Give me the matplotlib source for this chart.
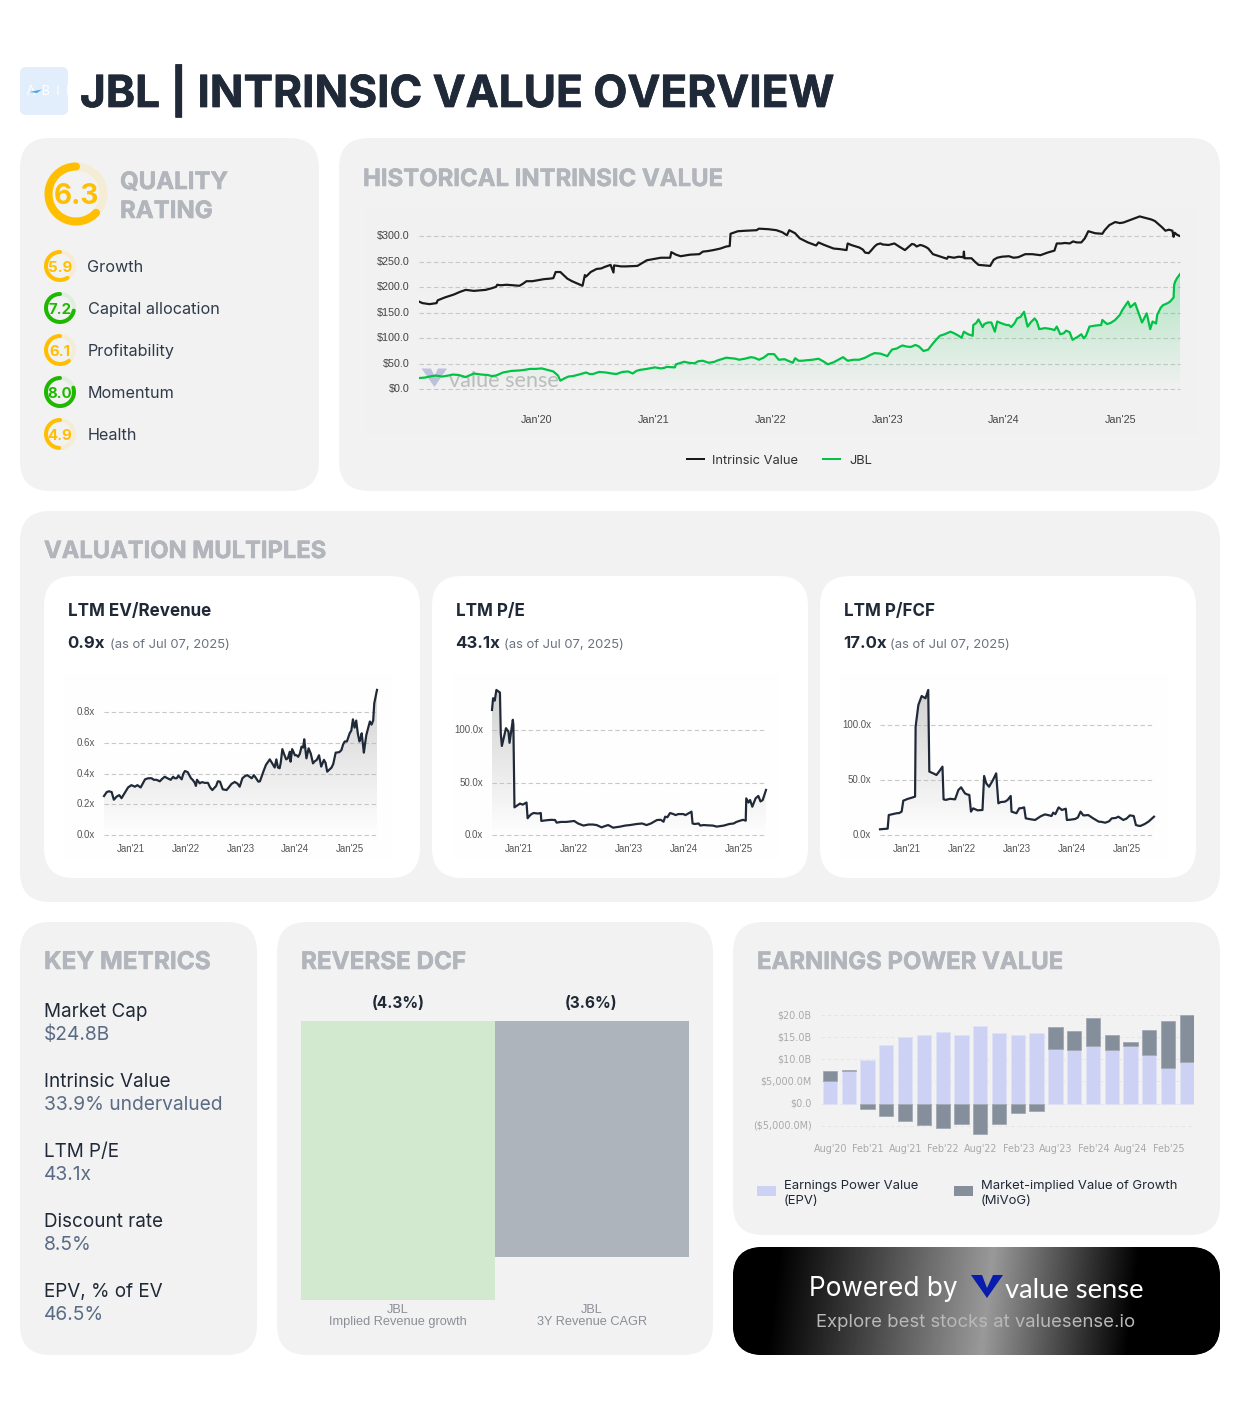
"""JBL intrinsic value overview, laid out in pixel coordinates."""

import numpy as np
import matplotlib
matplotlib.use("Agg")
import matplotlib.pyplot as plt
import matplotlib.patheffects as pe
from matplotlib.patches import FancyBboxPatch, PathPatch, Polygon, Rectangle
from matplotlib.transforms import ScaledTranslation

W, H = 1240, 1419

# --- Quality ratings ---
QUALITY = 6.3
RATING_NAMES = ["Growth", "Capital allocation", "Profitability", "Momentum", "Health"]
RATING_VALUES = [5.9, 7.2, 6.1, 8.0, 4.9]

# --- Historical intrinsic value vs price ---
iv_years = [2019.00, 2019.03, 2019.09, 2019.15, 2019.16, 2019.22, 2019.30, 2019.40, 2019.47, 2019.57,
            2019.66, 2019.67, 2019.75, 2019.86, 2019.92, 2019.97, 2020.07, 2020.15, 2020.17, 2020.21,
            2020.27, 2020.35, 2020.40, 2020.42, 2020.43, 2020.47, 2020.52, 2020.59, 2020.64, 2020.665,
            2020.67, 2020.77, 2020.87, 2021.00, 2021.07, 2021.15, 2021.16, 2021.24, 2021.40, 2021.43,
            2021.52, 2021.63, 2021.66, 2021.667, 2021.73, 2021.89, 2021.91, 2022.06, 2022.15, 2022.17,
            2022.26, 2022.40, 2022.42, 2022.55, 2022.66, 2022.67, 2022.77, 2022.82, 2022.85, 2022.87,
            2022.92, 2022.97, 2023.07, 2023.16, 2023.22, 2023.26, 2023.29, 2023.36, 2023.40, 2023.52,
            2023.53, 2023.66, 2023.665, 2023.67, 2023.73, 2023.79, 2023.89, 2023.92, 2023.99, 2024.13,
            2024.19, 2024.32, 2024.44, 2024.46, 2024.57, 2024.60, 2024.67, 2024.73, 2024.85, 2024.87,
            2024.96, 2025.03, 2025.17, 2025.27, 2025.33, 2025.39, 2025.45, 2025.46, 2025.47, 2025.51]
iv_values = [172, 169, 167, 169, 174.5, 180, 186, 195, 193, 195,
             201, 205, 205, 203, 212, 212, 216, 218, 230, 230,
             217, 208, 203, 224, 221, 230, 236, 240, 244, 229,
             243, 241, 242, 255, 258, 258, 269, 261, 265, 270,
             273, 280, 281, 305, 310, 312, 315, 312, 302, 312,
             296, 282, 288, 276, 273, 286, 278, 268, 267, 272,
             284, 284, 286, 273, 285, 280, 283, 276, 265, 256,
             260, 259, 270, 257, 257, 244, 242, 254, 260, 259,
             265, 263, 272, 286, 286, 290, 288, 310, 305, 312,
             328, 327, 339, 333, 324, 311, 311, 299, 307, 301]
iv_extra_years = [2019.35, 2019.52, 2019.62, 2019.70, 2019.80, 2019.89, 2020.02, 2020.12, 2020.31, 2020.56,
                  2020.73, 2020.95, 2021.10, 2021.20, 2021.32, 2021.47, 2021.58, 2021.80, 2021.99, 2022.11,
                  2022.22, 2022.33, 2022.47, 2022.60, 2022.70, 2022.80, 2022.90, 2022.95, 2023.02, 2023.11,
                  2023.19, 2023.24, 2023.31, 2023.34, 2023.44, 2023.48, 2023.58, 2023.62, 2023.76, 2023.84,
                  2023.95, 2024.05, 2024.09, 2024.16, 2024.25, 2024.38, 2024.50, 2024.53, 2024.63, 2024.70,
                  2024.79, 2024.91, 2025.00, 2025.10, 2025.22, 2025.30, 2025.36, 2025.42, 2025.49]
iv_extra_values = [191, 194, 198, 204, 204, 207, 214, 217, 212, 237,
                   241, 253, 258, 264, 264, 271, 276, 311, 314, 308,
                   306, 288, 283, 275, 283, 274, 280, 286, 283, 280,
                   279, 284, 282, 279, 262, 259, 258, 260, 250, 243,
                   258, 261, 258, 262, 265, 268, 286, 287, 288, 296,
                   306, 322, 326, 333, 336, 330, 318, 313, 303]

jbl_years = [2019.00, 2019.09, 2019.20, 2019.29, 2019.40, 2019.47, 2019.59, 2019.66, 2019.72, 2019.86,
             2019.95, 2020.05, 2020.15, 2020.19, 2020.21, 2020.25, 2020.32, 2020.43, 2020.49, 2020.60,
             2020.69, 2020.79, 2020.83, 2020.89, 2021.02, 2021.07, 2021.12, 2021.19, 2021.20, 2021.27,
             2021.36, 2021.43, 2021.53, 2021.59, 2021.67, 2021.74, 2021.84, 2021.91, 2021.99, 2022.04,
             2022.08, 2022.13, 2022.20, 2022.22, 2022.28, 2022.42, 2022.50, 2022.63, 2022.67, 2022.77,
             2022.90, 2023.01, 2023.05, 2023.12, 2023.17, 2023.25, 2023.32, 2023.40, 2023.46, 2023.55,
             2023.645, 2023.665, 2023.74, 2023.745, 2023.79, 2023.825, 2023.87, 2023.90, 2023.93, 2023.95,
             2024.03, 2024.07, 2024.12, 2024.18, 2024.21, 2024.27, 2024.31, 2024.415, 2024.46, 2024.49,
             2024.54, 2024.595, 2024.67, 2024.69, 2024.74, 2024.84, 2024.85, 2024.89, 2024.96, 2025.00,
             2025.07, 2025.09, 2025.13, 2025.19, 2025.23, 2025.26, 2025.28, 2025.31, 2025.32, 2025.37,
             2025.41, 2025.46, 2025.465, 2025.49, 2025.515]
jbl_values = [22, 25, 25, 29, 24, 31, 28, 27, 33, 37,
              40, 41, 35, 27, 17, 22, 26, 33, 30, 33,
              30, 35, 31, 38, 43, 41, 44, 43, 49, 54,
              51, 56, 54, 59, 61, 58, 63, 58, 69, 69,
              58, 59, 52, 61, 56, 60, 49, 63, 56, 58,
              71, 65, 78, 84, 84, 87, 75, 90, 105, 113,
              101, 113, 105, 126, 137, 122, 131, 131, 113, 133,
              126, 122, 139, 152, 123, 139, 118, 118, 123, 108,
              115, 97, 108, 100, 123, 126, 136, 128, 136, 146,
              172, 161, 169, 131, 149, 118, 133, 129, 146, 165,
              169, 180, 205, 218, 226]
jbl_extra_years = [2019.05, 2019.14, 2019.25, 2019.34, 2019.44, 2019.53, 2019.62, 2019.69, 2019.79, 2019.90,
                   2020.00, 2020.10, 2020.28, 2020.37, 2020.46, 2020.54, 2020.65, 2020.74, 2020.86, 2020.95,
                   2021.10, 2021.31, 2021.39, 2021.48, 2021.56, 2021.63, 2021.71, 2021.79, 2021.87, 2021.95,
                   2022.25, 2022.32, 2022.37, 2022.46, 2022.55, 2022.59, 2022.72, 2022.82, 2022.86, 2022.95,
                   2023.03, 2023.09, 2023.14, 2023.21, 2023.28, 2023.36, 2023.43, 2023.50, 2023.58, 2023.62,
                   2023.70, 2023.77, 2023.84, 2023.98, 2024.05, 2024.10, 2024.15, 2024.24, 2024.29, 2024.36,
                   2024.44, 2024.52, 2024.57, 2024.64, 2024.71, 2024.79, 2024.92, 2025.02, 2025.05, 2025.11,
                   2025.16, 2025.35, 2025.43, 2025.475]
jbl_extra_values = [23, 27, 27, 28, 28, 29, 26, 30, 36, 38,
                    40, 38, 25, 29, 30, 34, 31, 34, 36, 40,
                    42, 52, 55, 52, 57, 62, 60, 60, 62, 62,
                    56, 57, 58, 55, 53, 58, 58, 62, 67, 70,
                    72, 80, 86, 83, 84, 78, 98, 108, 110, 105,
                    108, 130, 128, 130, 126, 130, 142, 132, 133, 120,
                    116, 110, 112, 103, 105, 125, 130, 155, 165, 165,
                    150, 160, 172, 212]

MAIN_TICK_YEARS = [2020, 2021, 2022, 2023, 2024, 2025]
MAIN_TICK_LABELS = ["Jan'20", "Jan'21", "Jan'22", "Jan'23", "Jan'24", "Jan'25"]
MAIN_Y_TICKS = [0, 50, 100, 150, 200, 250, 300]
MAIN_Y_LABELS = ["$0.0", "$50.0", "$100.0", "$150.0", "$200.0", "$250.0", "$300.0"]

# --- Valuation multiples ---
ev_years = [2020.52, 2020.57, 2020.66, 2020.70, 2020.80, 2020.84, 2020.96, 2021.02, 2021.085, 2021.13,
            2021.19, 2021.27, 2021.39, 2021.43, 2021.54, 2021.63, 2021.74, 2021.785, 2021.85, 2021.88,
            2021.94, 2022.00, 2022.05, 2022.11, 2022.20, 2022.22, 2022.27, 2022.42, 2022.50, 2022.64,
            2022.69, 2022.76, 2022.85, 2022.91, 2023.00, 2023.05, 2023.14, 2023.22, 2023.26, 2023.34,
            2023.40, 2023.48, 2023.55, 2023.64, 2023.67, 2023.73, 2023.78, 2023.85, 2023.915, 2023.93,
            2023.96, 2024.01, 2024.07, 2024.13, 2024.18, 2024.22, 2024.26, 2024.34, 2024.45, 2024.49,
            2024.54, 2024.60, 2024.71, 2024.755, 2024.86, 2024.92, 2025.01, 2025.07, 2025.10, 2025.13,
            2025.19, 2025.23, 2025.27, 2025.315, 2025.38, 2025.44, 2025.46, 2025.51]
ev_values = [.254, .28, .28, .23, .26, .24, .31, .325, .315, .325,
             .31, .363, .37, .36, .35, .38, .36, .38, .37, .387,
             .363, .417, .41, .37, .32, .36, .337, .34, .293, .348,
             .298, .293, .333, .346, .315, .37, .39, .37, .39, .348,
             .38, .457, .493, .44, .493, .435, .56, .493, .543, .478,
             .56, .52, .51, .576, .624, .50, .565, .467, .52, .446,
             .49, .413, .463, .537, .554, .61, .663, .754, .70, .746,
             .61, .663, .537, .652, .74, .746, .859, .946]
ev_extra_years = [2020.61, 2020.75, 2020.90, 2021.33, 2021.48, 2021.58, 2021.68, 2021.81, 2021.97, 2022.14,
                  2022.18, 2022.31, 2022.36, 2022.46, 2022.57, 2022.60, 2022.80, 2022.96, 2023.10, 2023.18,
                  2023.30, 2023.37, 2023.44, 2023.59, 2023.70, 2023.75, 2023.82, 2023.88, 2024.04, 2024.10,
                  2024.16, 2024.30, 2024.37, 2024.41, 2024.57, 2024.65, 2024.68, 2024.82, 2024.89, 2024.96,
                  2025.04, 2025.16, 2025.21, 2025.29, 2025.35, 2025.41]
ev_extra_values = [.285, .25, .275, .37, .36, .365, .37, .37, .40, .36,
                   .34, .345, .34, .31, .32, .35, .31, .335, .385, .38,
                   .37, .35, .42, .47, .44, .47, .52, .50, .52, .53,
                   .57, .53, .48, .49, .47, .43, .44, .54, .59, .61,
                   .68, .66, .63, .59, .70, .72]

pe_years = [2020.52, 2020.54, 2020.57, 2020.60, 2020.665, 2020.68, 2020.70, 2020.775, 2020.82, 2020.84,
            2020.90, 2020.91, 2020.93, 2021.03, 2021.15, 2021.17, 2021.24, 2021.41, 2021.42, 2021.67,
            2021.70, 2022.02, 2022.19, 2022.43, 2022.52, 2022.64, 2022.73, 2023.04, 2023.34, 2023.53,
            2023.65, 2023.68, 2023.77, 2023.92, 2024.01, 2024.16, 2024.18, 2024.29, 2024.32, 2024.47,
            2024.62, 2024.93, 2025.05, 2025.15, 2025.16, 2025.20, 2025.23, 2025.27, 2025.38, 2025.42,
            2025.46, 2025.52]
pe_values = [119.4, 130.6, 128.3, 138.5, 136, 97, 85, 102, 98.7, 88,
             110, 105, 26.4, 30, 31, 16, 20, 21, 13.4, 14.3,
             11.8, 13.4, 9, 9.5, 7.3, 9.5, 7, 9.5, 9.5, 14.3,
             12.7, 17.5, 21, 20, 20, 22.3, 11, 11, 9, 9.2,
             8, 11, 13.7, 13.7, 35, 31, 33.4, 27, 37.3, 32,
             33.4, 43]
pe_extra_years = [2021.08, 2021.20, 2021.28, 2021.36, 2021.50, 2021.60, 2021.78, 2021.88, 2022.09, 2022.28,
                  2022.36, 2022.58, 2022.86, 2022.95, 2023.16, 2023.26, 2023.42, 2023.60, 2023.72, 2023.83,
                  2023.87, 2024.05, 2024.10, 2024.22, 2024.38, 2024.55, 2024.75, 2024.85, 2024.98, 2025.10,
                  2025.33]
pe_extra_values = [29, 18, 21, 20.5, 14, 14.5, 12.5, 12.5, 11, 10,
                   10, 8.5, 8, 9, 10.5, 11, 11, 14.5, 17, 20,
                   19, 19, 20.5, 10.5, 9.5, 9, 9, 10.5, 12.5, 14.5,
                   35]

fcf_years = [2020.52, 2020.66, 2020.68, 2020.82, 2020.915, 2020.945, 2021.16, 2021.17, 2021.22, 2021.28,
             2021.35, 2021.40, 2021.42, 2021.55, 2021.66, 2021.68, 2021.89, 2022.00, 2022.07, 2022.15,
             2022.18, 2022.22, 2022.39, 2022.42, 2022.51, 2022.64, 2022.68, 2022.80, 2022.905, 2022.92,
             2023.01, 2023.06, 2023.15, 2023.18, 2023.35, 2023.53, 2023.65, 2023.68, 2023.78, 2023.84,
             2023.91, 2023.93, 2024.08, 2024.18, 2024.23, 2024.32, 2024.51, 2024.63, 2024.75, 2024.87,
             2024.96, 2025.08, 2025.15, 2025.19, 2025.27, 2025.42, 2025.52]
fcf_values = [5.2, 5.8, 18.2, 19.8, 21.3, 31.3, 35, 98.8, 118.5, 126.7,
              124.6, 132.2, 57.8, 54.7, 62.3, 32.5, 32.5, 43.5, 38, 36.5,
              21.3, 24.3, 22.8, 53.8, 44, 56.2, 28.9, 30.4, 35.6, 21.3,
              19.8, 24.3, 25.2, 15.2, 13.7, 18.8, 17.3, 20.4, 25.2, 22.8,
              24, 13.7, 14.6, 21.3, 17.9, 18.2, 12.2, 11.2, 15.2, 16.7,
              13.7, 17.9, 17.3, 9.1, 8.2, 12.2, 16.7]
fcf_extra_years = [2020.75, 2020.87, 2021.03, 2021.10, 2021.50, 2021.60, 2021.72, 2021.80, 2021.95, 2022.11,
                   2022.30, 2022.46, 2022.58, 2022.72, 2022.85, 2022.97, 2023.10, 2023.25, 2023.45, 2023.60,
                   2023.72, 2024.00, 2024.13, 2024.28, 2024.40, 2024.56, 2024.70, 2024.82, 2025.02, 2025.23,
                   2025.35]
fcf_extra_values = [19, 20, 33, 34, 56, 58, 32, 33, 41, 37,
                    22.5, 47, 50, 30, 32, 20.5, 24.5, 14.5, 17, 18,
                    19, 14, 16, 18, 15.5, 12, 12.5, 15.5, 15, 8.5,
                    10]

CARD_TICK_YEARS = [2021, 2022, 2023, 2024, 2025]
CARD_TICK_LABELS = ["Jan'21", "Jan'22", "Jan'23", "Jan'24", "Jan'25"]

# --- Key metrics ---
METRIC_NAMES = ["Market Cap", "Intrinsic Value", "LTM P/E", "Discount rate", "EPV, % of EV"]
METRIC_VALUES = ["$24.8B", "33.9% undervalued", "43.1x", "8.5%", "46.5%"]

# --- Reverse DCF ---
DCF_LABELS = ["JBL\nImplied Revenue growth", "JBL\n3Y Revenue CAGR"]
DCF_VALUES = [-4.3, -3.64]

# --- Earnings power value ($B) ---
EPV_QUARTERS = ["Aug'20", "Nov'20", "Feb'21", "May'21", "Aug'21", "Nov'21", "Feb'22", "May'22", "Aug'22", "Nov'22",
                "Feb'23", "May'23", "Aug'23", "Nov'23", "Feb'24", "May'24", "Aug'24", "Nov'24", "Feb'25", "May'25"]
epv_values = [5.1, 7.45, 9.9, 13.3, 15.1, 15.6, 16.1, 15.5, 17.6, 16.0,
              15.4, 15.9, 12.4, 12.1, 13.0, 12.2, 13.0, 11.0, 8.05, 9.3]
mivog_values = [2.35, 0.15, -1.3, -2.7, -3.85, -4.9, -5.5, -4.6, -6.9, -4.6,
                -2.2, -1.7, 4.9, 4.2, 6.3, 3.3, 0.8, 5.6, 10.5, 10.7]
EPV_Y_TICKS = [-5, 0, 5, 10, 15, 20]
EPV_Y_LABELS = ["($5,000.0M)", "$0.0", "$5,000.0M", "$10.0B", "$15.0B", "$20.0B"]

PANEL = "#f2f2f2"
DARK = "#1f2937"
HEAD = "#b2b5bb"
GOLD = "#ffbf00"
GREEN = "#1fb800"
UI = "Inter"
CHART = "Liberation Sans"


def px(n):
    return n * 0.72


def merged(years, values, extra_years, extra_values):
    x = np.array(years + extra_years)
    y = np.array(values + extra_values)
    order = np.argsort(x)
    return x[order], y[order]


fig = plt.figure(figsize=(W / 100, H / 100), dpi=100, facecolor="white")
page = fig.add_axes([0, 0, 1, 1])
page.set_xlim(0, W)
page.set_ylim(H, 0)
page.axis("off")


def panel(x0, y0, x1, y1, r=30, color=PANEL, z=1):
    p = FancyBboxPatch((x0 + r, y0 + r), x1 - x0 - 2 * r, y1 - y0 - 2 * r,
                       boxstyle=f"round,pad={r},rounding_size={r}", fc=color, ec="none", zorder=z)
    page.add_patch(p)
    return p


def txt(x, y, s, size, color=DARK, weight="normal", ha="left", family=UI, stroke=0, **kw):
    t = page.text(x, y, s, fontsize=px(size), color=color, fontweight=weight, ha=ha,
                  va="baseline", family=family, zorder=5, **kw)
    if stroke:
        # Inter tops out below the heavy weight in the original, thicken a little
        t.set_path_effects([pe.withStroke(linewidth=stroke, foreground=color)])
    return t


def ring(cx, cy, r, stroke, rating, color, track):
    # the arc starts at 12 o'clock and runs counter-clockwise
    t = np.linspace(0, 2 * np.pi, 200)
    page.plot(cx - r * np.sin(t), cy - r * np.cos(t), color=track, lw=px(stroke), zorder=3)
    t = np.linspace(0, 2 * np.pi * rating / 10, 200)
    page.plot(cx - r * np.sin(t), cy - r * np.cos(t), color=color, lw=px(stroke),
              solid_capstyle="round", zorder=4)


def chart_axes(x0, y0, x1, y1):
    ax = fig.add_axes([x0 / W, 1 - y1 / H, (x1 - x0) / W, (y1 - y0) / H])
    ax.patch.set_alpha(0)
    for s in ax.spines.values():
        s.set_visible(False)
    ax.tick_params(length=0)
    return ax


def gradient_under(ax, xs, ys, rgb, a_top, a_bot):
    poly = ax.fill_between(xs, ys, 0, color="none")
    clip = PathPatch(poly.get_paths()[0], transform=ax.transData, fc="none", ec="none")
    ax.add_patch(clip)
    img = np.zeros((256, 1, 4))
    img[:, 0, :3] = rgb
    img[:, 0, 3] = np.linspace(a_top, a_bot, 256)
    im = ax.imshow(img, extent=[min(xs), max(xs), 0, max(ys)], aspect="auto", origin="upper", zorder=1)
    im.set_clip_path(clip)


def style_grid(ax, color="#c8c8c8", lw=0.8):
    ax.set_axisbelow(True)
    ax.grid(axis="y", color=color, lw=lw, linestyle=(0, (4, 2.5)))
    ax.grid(axis="x", visible=False)
    for g in ax.get_ygridlines():
        g.set_clip_on(False)


def nudge_labels(ax, right_px=1, up_px=1):
    # tick labels sit a pixel off the browser rendering
    for lab in ax.get_xticklabels():
        lab.set_transform(lab.get_transform() + ScaledTranslation(right_px / 100, 0, fig.dpi_scale_trans))
    for lab in ax.get_yticklabels():
        lab.set_transform(lab.get_transform() + ScaledTranslation(0, up_px / 100, fig.dpi_scale_trans))


def multiple_chart(box, xlim, ylim, years, values, yticks, ylabels, ypad):
    ax = chart_axes(*box)
    page.add_patch(Rectangle((box[0] - 40, 674), box[2] - box[0] + 55, 184, fc="#fefefe", ec="none", zorder=2))
    gradient_under(ax, years, values, (0.72, 0.72, 0.72), 0.62, 0.0)
    ax.plot(years, values, color=DARK, lw=px(2.2), zorder=3, clip_on=False)
    ax.set_xticks(CARD_TICK_YEARS, CARD_TICK_LABELS, family=CHART, fontsize=px(9.8), color="#555555")
    ax.set_yticks(yticks, ylabels, family=CHART, fontsize=px(9.8), color="#555555")
    ax.tick_params(axis="x", pad=px(9))
    ax.tick_params(axis="y", pad=px(ypad))
    style_grid(ax)
    ax.set_xlim(*xlim)
    ax.set_ylim(*ylim)
    nudge_labels(ax)
    return ax


# --- Header ---
panel(20, 67, 68, 115, r=6, color="#e3eefc")
txt(44, 95, "J  A  B  I  L", 12.5, color="white", ha="center", family="Lato")
page.add_patch(Polygon([(29, 92), (42, 89.5), (37, 93)], fc="#46a8e4", ec="none", zorder=6))
txt(80, 107, "JBL | INTRINSIC VALUE OVERVIEW", 44.2, weight="bold", stroke=0.5)

# --- Quality rating ---
panel(20, 138, 319, 491)
ring(76, 194, 27.5, 8, QUALITY, GOLD, "#f5ecd6")
txt(76, 204, f"{QUALITY}", 28, color=GOLD, weight="bold", ha="center")
txt(120, 189, "QUALITY", 24, color=HEAD, weight="bold", stroke=0.4)
txt(120, 218, "RATING", 24, color=HEAD, weight="bold", stroke=0.4)
for i, (name, val) in enumerate(zip(RATING_NAMES, RATING_VALUES)):
    cy = 266 + 42 * i
    col, track = (GREEN, "#dfeedd") if val >= 7 else (GOLD, "#f5ecd6")
    ring(60, cy, 14, 4, val, col, track)
    txt(60, cy + 6, f"{val:.1f}", 15, color=col, weight="bold", ha="center")
    txt(87.5, cy + 6, name, 16.2, color="#2f3a4a")

# --- Historical intrinsic value ---
panel(339, 138, 1220, 491)
txt(363, 186, "HISTORICAL INTRINSIC VALUE", 23.9, color=HEAD, weight="bold", stroke=0.4)
page.add_patch(Rectangle((365, 207), 832, 228, fc="#f1f1f1", ec="none", zorder=2))
page.add_patch(Polygon([(421.5, 368.5), (431, 368.5), (434.5, 376), (438, 368.5), (447, 368.5), (434.5, 387)],
                       fc="#bfc2dc", ec="none", zorder=3))
txt(449, 387, "value sense", 21.6, color="#bdbdbd", family="Lato")

iv_x, iv_y = merged(iv_years, iv_values, iv_extra_years, iv_extra_values)
jbl_x, jbl_y = merged(jbl_years, jbl_values, jbl_extra_years, jbl_extra_values)
ax_main = chart_axes(419, 207, 1180, 389.3)
gradient_under(ax_main, jbl_x, jbl_y, (0.0, 0.76, 0.27), 0.27, 0.0)
ax_main.plot(iv_x, iv_y, color="#1a1a1a", lw=px(2.2), zorder=3)
ax_main.plot(jbl_x, jbl_y, color="#00c244", lw=px(2.2), zorder=3)
ax_main.set_xticks(MAIN_TICK_YEARS, MAIN_TICK_LABELS, family=CHART, fontsize=px(10.8), color="#444444")
ax_main.set_yticks(MAIN_Y_TICKS, MAIN_Y_LABELS, family=CHART, fontsize=px(10.8), color="#444444")
ax_main.tick_params(axis="x", pad=px(25.5))
ax_main.tick_params(axis="y", pad=px(9.5))
style_grid(ax_main)
ax_main.set_xlim(2019.0, 2025.515)
ax_main.set_ylim(0, 357.5)
nudge_labels(ax_main)

page.plot([687, 704], [459, 459], color="#1a1a1a", lw=px(2), zorder=5)
txt(712, 464, "Intrinsic Value", 12.9, color="#333333")
page.plot([823, 840], [459, 459], color="#00c244", lw=px(2), zorder=5)
txt(849, 464, "JBL", 12.9, color="#333333")

# --- Valuation multiples ---
panel(20, 511, 1220, 902)
txt(44, 558, "VALUATION MULTIPLES", 23.7, color=HEAD, weight="bold", stroke=0.4)
for x0, title, value, note_x in [(44, "LTM EV/Revenue", "0.9x", 110),
                                 (432, "LTM P/E", "43.1x", 503.5),
                                 (820, "LTM P/FCF", "17.0x", 890)]:
    panel(x0, 576, x0 + 376, 878, color="white", z=1.5)
    txt(x0 + 24, 616, title, 17, weight="bold")
    txt(x0 + 23.5, 648, value, 16.8, weight="bold")
    txt(note_x, 648, "(as of Jul 07, 2025)", 13.05, color="#6b7280")

ev_x, ev_y = merged(ev_years, ev_values, ev_extra_years, ev_extra_values)
pe_x, pe_y = merged(pe_years, pe_values, pe_extra_years, pe_extra_values)
fcf_x, fcf_y = merged(fcf_years, fcf_values, fcf_extra_years, fcf_extra_values)
multiple_chart((104, 680, 377, 835), (2020.52, 2025.51), (0, 1.0106), ev_x, ev_y,
               [0, 0.2, 0.4, 0.6, 0.8], ["0.0x", "0.2x", "0.4x", "0.6x", "0.8x"], 9.5)
multiple_chart((492, 680, 766, 835), (2020.52, 2025.52), (0, 148), pe_x, pe_y,
               [0, 50, 100], ["0.0x", "50.0x", "100.0x"], 9)
multiple_chart((880, 680, 1154, 835), (2020.52, 2025.52), (0, 141.3), fcf_x, fcf_y,
               [0, 50, 100], ["0.0x", "50.0x", "100.0x"], 9)

# --- Key metrics ---
panel(20, 922, 257, 1355)
txt(44, 969, "KEY METRICS", 24.4, color=HEAD, weight="bold", stroke=0.4)
for i, (name, val) in enumerate(zip(METRIC_NAMES, METRIC_VALUES)):
    txt(44, 1017 + 70 * i, name, 18.9, color=DARK)
    txt(44, 1040 + 70 * i, val, 19.2, color="#5a6b85")

# --- Reverse DCF ---
panel(277, 922, 713, 1355)
txt(301, 969, "REVERSE DCF", 24.2, color=HEAD, weight="bold", stroke=0.4)
ax_dcf = chart_axes(301, 1021, 689, 1300)
ax_dcf.bar([0, 1], DCF_VALUES, width=1.0, color=["#d3e9cf", "#adb4bc"])
ax_dcf.set_xlim(-0.5, 1.5)
ax_dcf.set_ylim(-4.3, 0)
ax_dcf.set_yticks([])
ax_dcf.set_xticks([0, 1], DCF_LABELS, family=CHART, fontsize=px(12.8), color="#8a8f96", linespacing=0.95)
ax_dcf.tick_params(axis="x", pad=px(4))
for x, v in zip([398, 591], DCF_VALUES):
    txt(x, 1008, f"({abs(v):.1f}%)", 15.5, weight="bold", ha="center")

# --- Earnings power value ---
panel(733, 922, 1220, 1235)
txt(757, 969, "EARNINGS POWER VALUE", 23.9, color=HEAD, weight="bold", stroke=0.4)
ax_epv = chart_axes(820.7, 1015, 1194, 1136)
epv = np.array(epv_values)
mivog = np.array(mivog_values)
pos = np.arange(len(EPV_QUARTERS))
ax_epv.bar(pos, epv, width=0.76, color="#cdd1f3", edgecolor="#dfe1f5", lw=0.6, zorder=2)
ax_epv.bar(pos, mivog, width=0.76, bottom=np.where(mivog > 0, epv, 0), color="#858e9b",
           edgecolor="#a3a9b3", lw=0.6, zorder=2)
ax_epv.set_xticks(pos[::2], EPV_QUARTERS[::2], family="DejaVu Sans", fontsize=px(9.7), color="#a9a9a9")
ax_epv.set_yticks(EPV_Y_TICKS, EPV_Y_LABELS, family="DejaVu Sans", fontsize=px(9.7), color="#a9a9a9")
ax_epv.tick_params(axis="x", pad=px(8))
ax_epv.tick_params(axis="y", pad=px(9))
style_grid(ax_epv, color="#e6e6e6", lw=0.7)
ax_epv.set_xlim(-0.495, 19.38)
ax_epv.set_ylim(-7.3, 20)
nudge_labels(ax_epv, right_px=0.5)

page.add_patch(Rectangle((757, 1186), 19, 10, fc="#cdd1f3", ec="none", zorder=4))
txt(784, 1189, "Earnings Power Value", 13.05)
txt(784, 1204, "(EPV)", 13.05)
page.add_patch(Rectangle((954, 1186), 19, 10, fc="#858e9b", ec="none", zorder=4))
txt(981, 1189, "Market-implied Value of Growth", 13.05)
txt(981, 1204, "(MiVoG)", 13.05)

# --- Footer banner ---
banner = panel(733, 1247, 1220, 1355, r=30, color="black")
gx, gy = np.meshgrid(np.arange(733, 1220), np.arange(1247, 1355))
shade = np.interp(gx + (gy - 1301) * 0.12, [773, 987, 1133], [0, 0.6, 0])
im = page.imshow(shade, extent=[733, 1220, 1355, 1247], origin="upper", cmap="gray", vmin=0, vmax=1,
                 aspect="auto", zorder=2)
im.set_clip_path(banner)
page.set_xlim(0, W)
page.set_ylim(H, 0)
txt(809, 1296, "Powered by", 26.2, color="white")
page.add_patch(Polygon([(971, 1275), (982, 1275), (987, 1288), (993, 1275), (1003, 1275), (987, 1298)],
                       fc="#0a1cae", ec="none", zorder=5))
txt(1005, 1298, "value sense", 27.4, color="white", family="Lato")
txt(976, 1327, "Explore best stocks at valuesense.io", 18.5, color="#b9b9b9", ha="center")

fig.savefig("out.png", dpi=100)
